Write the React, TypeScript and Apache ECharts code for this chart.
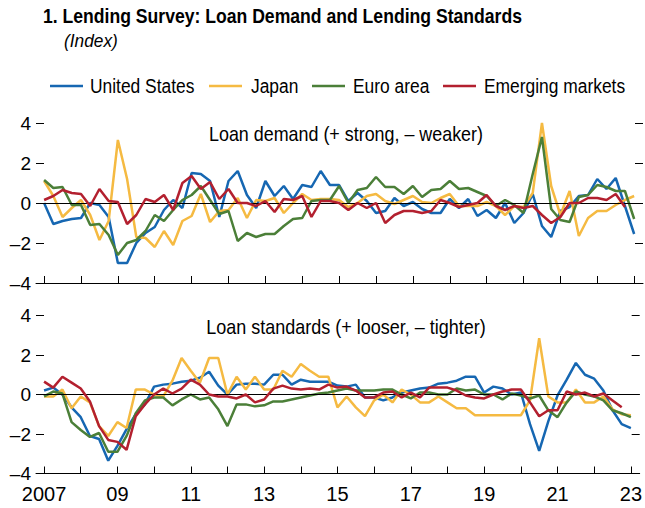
import React, { useEffect, useRef } from "react";
import * as echarts from "echarts";

const FONT = "'Liberation Sans', Arial, sans-serif";

const seriesNames = ["United States", "Japan", "Euro area", "Emerging markets"];
const colors = ["#1667B2", "#F5BA42", "#4B7F38", "#B3202F"];

const quarters: number[] = Array.from({ length: 65 }, (_, i) => 2007 + i / 4);
const tickYears = [2007, 2008, 2009, 2010, 2011, 2012, 2013, 2014, 2015, 2016, 2017, 2018, 2019, 2020, 2021, 2022, 2023];
const labelYears = [2007, 2009, 2011, 2013, 2015, 2017, 2019, 2021, 2023];

// Panel 1: Loan demand
const usDemand = [0, -1.05, -0.9, -0.8, -0.75, 0, -0.1, -0.7, -3.0, -3.0, -2.0, -1.5, -1.2, -0.35, 0.15, -0.25, 1.5, 1.45, 1.1, -0.7, 1.1, 1.6, 0.4, -0.25, 1.1, 0.35, 0.85, 0.2, 0.9, 0.8, 1.6, 0.9, 0.9, 0.1, 0.5, 0.1, -0.5, -0.4, 0.25, -0.15, 0.05, -0.3, -0.5, -0.5, 0.2, -0.25, 0.2, -0.65, -0.35, -0.75, 0, -1.0, -0.5, 0.45, -1.15, -1.7, -0.4, -0.2, 0.35, 0.4, 1.2, 0.7, 1.25, -0.15, -1.55];
const jpDemand = [1.1, 0.35, -0.7, -0.25, 0.15, -0.6, -1.85, -0.9, 3.15, 1.2, -1.7, -1.75, -2.2, -1.4, -2.1, -0.9, -0.65, 0.45, -0.95, -0.4, -0.35, 0.25, -0.75, 0.15, 0.1, 0.25, -0.5, 0, 0.45, 0.15, 0.2, 0.2, 0.15, -0.2, 0, 0.35, 0.45, 0.1, -0.05, 0.15, 0.35, 0.05, 0, 0.25, 0.45, -0.15, -0.15, -0.15, 0.05, -0.15, -0.6, -0.15, -0.2, 0.5, 4.0, 0.85, -0.6, 0.6, -1.65, -0.75, -0.4, -0.4, -0.1, 0.15, 0.35];
const eaDemand = [1.15, 0.75, 0.8, -0.1, -0.1, -1.1, -1.05, -1.6, -2.6, -2.0, -1.85, -1.4, -0.6, -0.9, -0.35, 0.15, 0.4, 0.85, 0.15, -0.55, -0.4, -1.9, -1.5, -1.7, -1.55, -1.55, -1.15, -0.8, -0.75, 0.1, 0.15, 0.15, 0.85, 0, 0.65, 0.75, 1.3, 0.8, 0.8, 0.45, 0.85, 0.3, 0.65, 0.7, 1.1, 0.7, 0.75, 0.55, 0.35, -0.15, 0.15, -0.1, -0.5, 1.45, 3.3, -0.3, -0.85, -0.95, 0.3, 0.4, 0.9, 0.8, 0.6, 0.6, -0.8];
const emDemand = [0.15, 0.35, 0.65, 0.5, 0.45, -0.15, 0.7, 0.1, 0.05, -1.05, -0.6, 0.2, 0.05, 0.4, -0.35, 1.0, 1.35, 0.7, 1.05, 0.2, 0.7, 0, 0, -0.15, 0.1, -0.45, 0.2, 0.15, 0.35, -0.7, 0.1, 0.1, 0, -0.35, 0, -0.25, 0, -1.0, -0.6, -0.4, -0.4, -0.5, -0.4, 0.15, 0, -0.2, -0.1, 0, 0.4, -0.15, -0.35, -0.15, -0.25, -0.15, -0.6, -1.0, -0.7, 0, 0, 0.25, 0.25, 0.15, 0.45, -0.2];

// Panel 2: Loan standards
const usStandards = [0.2, 0.35, 0, -0.65, -1.15, -2.1, -2.25, -3.35, -2.6, -1.75, -1.0, -0.5, 0.4, 0.5, 0.55, 0.65, 0.7, 0.85, 1.15, 0.45, 0, 0.5, 0.55, 0.55, 0.5, 1.0, 1.0, 0.5, 0.75, 0.65, 0.65, 0.65, 0.45, 0.4, 0.5, -0.15, -0.15, -0.3, -0.15, 0.1, 0.2, 0.3, 0.35, 0.55, 0.6, 0.7, 0.9, 0.9, 0.1, 0.4, 0.3, 0, 0.1, -1.5, -2.85, -1.35, -0.05, 0.75, 1.6, 1.0, 0.8, 0.2, -0.8, -1.5, -1.7];
const jpStandards = [-0.1, -0.1, 0.25, -0.7, -0.1, -0.4, -1.6, -2.1, -1.4, -1.7, 0.25, 0.25, 0, -0.1, 0.7, 1.85, 1.2, 0.6, 1.85, 1.85, 0, 0.9, 0.25, 0.9, 0.25, 0.25, 1.2, 0.9, 1.55, 1.2, 0.9, 0.9, -0.65, -0.1, -0.65, -1.1, -0.3, 0, -0.4, 0.25, 0, -0.4, -0.4, -0.1, -0.4, -0.7, -0.7, -1.05, -1.05, -1.05, -1.05, -1.05, -1.05, -0.3, 2.85, -0.1, -0.4, -0.4, 0.25, -0.4, -0.4, -0.1, -0.75, -1.0, -1.05];
const eaStandards = [-0.1, 0.15, 0.05, -1.4, -1.8, -2.15, -1.95, -2.9, -2.9, -2.1, -0.95, -0.3, -0.15, -0.15, -0.55, -0.25, 0, -0.25, -0.15, -0.75, -1.6, -0.5, -0.5, -0.6, -0.55, -0.35, -0.35, -0.25, -0.15, -0.05, 0.05, 0.1, 0.2, 0.3, 0.2, 0.2, 0.2, 0.25, 0.25, 0, -0.2, 0.1, 0.1, 0, 0, 0.3, 0.2, 0.25, 0, 0, -0.25, 0.05, -0.05, -0.2, -0.05, -0.8, -1.15, -0.4, 0.15, 0, -0.1, -0.3, -0.8, -0.95, -1.15];
const emStandards = [0.65, 0.35, 0.9, 0.6, 0.3, -0.35, -1.6, -2.3, -2.4, -2.8, -1.1, -0.5, 0, 0.3, 0.05, 0.3, 0.75, 0.5, 0, -0.1, -0.1, -0.2, 0, -0.4, -0.25, 0.3, 0.45, 0.3, 0.25, 0.3, 0.25, 0.5, 0.35, 0.4, 0.2, -0.15, -0.15, 0.1, 0.15, -0.15, 0.1, -0.15, 0.35, 0.35, 0.35, 0.2, -0.05, -0.15, -0.2, 0, 0.15, 0.25, 0.25, -0.4, -1.1, -0.8, -0.8, 0.15, 0, 0.1, -0.1, 0.05, -0.3, -0.65];

const panels = [
  { title: "Loan demand (+ strong, \u2013 weaker)", data: [usDemand, jpDemand, eaDemand, emDemand] },
  { title: "Loan standards (+ looser, \u2013 tighter)", data: [usStandards, jpStandards, eaStandards, emStandards] },
];

const X_MIN = 2006.78;
const X_MAX = 2023.24;

// legend item positions (icon start x, text start x)
const legendIconX = [50, 209, 312, 443];
const legendTextX = [90, 251, 353, 484];

export default function App() {
  const ref = useRef<HTMLDivElement>(null);
  useEffect(() => {
    if (!ref.current) return;
    const chart = echarts.init(ref.current, undefined, { renderer: "svg" });
    const grids = [
      { left: 36, right: 2, top: 123, height: 160 },
      { left: 36, right: 2, top: 315.5, height: 158 },
    ];
    const xAxis: any[] = [];
    const yAxis: any[] = [];
    const series: any[] = [];
    panels.forEach((p, gi) => {
      xAxis.push({
        type: "value",
        gridIndex: gi,
        min: X_MIN,
        max: X_MAX,
        axisLine: { show: true, onZero: false, lineStyle: { color: "#000", width: 1 } },
        axisTick: { show: true, inside: true, length: 7, customValues: tickYears, lineStyle: { color: "#000", width: 1 } },
        axisLabel: {
          show: gi === 1,
          customValues: labelYears,
          formatter: (v: number) => (Math.round(v) === 2007 ? "2007" : String(Math.round(v)).slice(2)),
          fontSize: 20,
          fontFamily: FONT,
          color: "#000",
          margin: 10,
        },
        splitLine: { show: false },
      });
      yAxis.push({
        type: "value",
        gridIndex: gi,
        min: -4,
        max: 4,
        interval: 2,
        position: "left",
        axisLine: { show: false, onZero: false },
        axisTick: { show: true, inside: true, length: 8, lineStyle: { color: "#000", width: 1 } },
        axisLabel: {
          formatter: (v: number) => (v < 0 ? "\u2013" + Math.abs(v) : String(v)),
          fontSize: 19,
          fontFamily: FONT,
          color: "#000",
          margin: 5,
        },
        splitLine: { show: false },
      });
      yAxis.push({
        type: "value",
        gridIndex: gi,
        min: -4,
        max: 4,
        interval: 2,
        position: "right",
        axisLine: { show: false, onZero: false },
        axisTick: { show: true, inside: true, length: 8, lineStyle: { color: "#000", width: 1 } },
        axisLabel: { show: false },
        splitLine: { show: false },
      });
      series.push({
        type: "line",
        xAxisIndex: gi,
        yAxisIndex: gi * 2,
        data: [],
        z: 1,
        silent: true,
        markLine: {
          silent: true,
          symbol: "none",
          label: { show: false },
          lineStyle: { color: "#000", width: 1, type: "solid" },
          data: [{ yAxis: 0 }],
        },
      });
      p.data.forEach((arr, si) => {
        series.push({
          type: "line",
          name: seriesNames[si],
          xAxisIndex: gi,
          yAxisIndex: gi * 2,
          data: arr.map((v, i) => [quarters[i], v]),
          showSymbol: false,
          symbol: "none",
          z: 2 + si,
          lineStyle: { color: colors[si], width: 2.5 },
          itemStyle: { color: colors[si] },
        });
      });
    });

    const graphic: any[] = [
      {
        type: "text",
        x: 43,
        y: 6,
        scaleX: 0.88,
        style: { text: "1. Lending Survey: Loan Demand and Lending Standards", fontSize: 20, fontWeight: "bold", fontFamily: FONT, fill: "#000" },
      },
      {
        type: "text",
        x: 64,
        y: 31,
        scaleX: 0.91,
        style: { text: "(Index)", fontSize: 19, fontStyle: "italic", fontFamily: FONT, fill: "#000" },
      },
      {
        type: "text",
        x: 346,
        y: 134,
        scaleX: 0.895,
        style: { text: panels[0].title, fontSize: 20, fontFamily: FONT, fill: "#000", align: "center", verticalAlign: "middle" },
      },
      {
        type: "text",
        x: 346,
        y: 327,
        scaleX: 0.9,
        style: { text: panels[1].title, fontSize: 20, fontFamily: FONT, fill: "#000", align: "center", verticalAlign: "middle" },
      },
    ];
    seriesNames.forEach((name, i) => {
      graphic.push({
        type: "line",
        shape: { x1: legendIconX[i], y1: 86, x2: legendIconX[i] + 33, y2: 86 },
        style: { stroke: colors[i], lineWidth: 2.5 },
      });
      graphic.push({
        type: "text",
        x: legendTextX[i],
        y: 86,
        scaleX: 0.87,
        style: { text: name, fontSize: 20, fontFamily: FONT, fill: "#000", verticalAlign: "middle" },
      });
    });

    chart.setOption({
      animation: false,
      backgroundColor: "#fff",
      grid: grids,
      xAxis,
      yAxis,
      series,
      graphic,
    });
    return () => chart.dispose();
  }, []);
  return <div ref={ref} style={{ position: "fixed", left: 0, top: 0, width: 645, height: 508 }} />;
}
